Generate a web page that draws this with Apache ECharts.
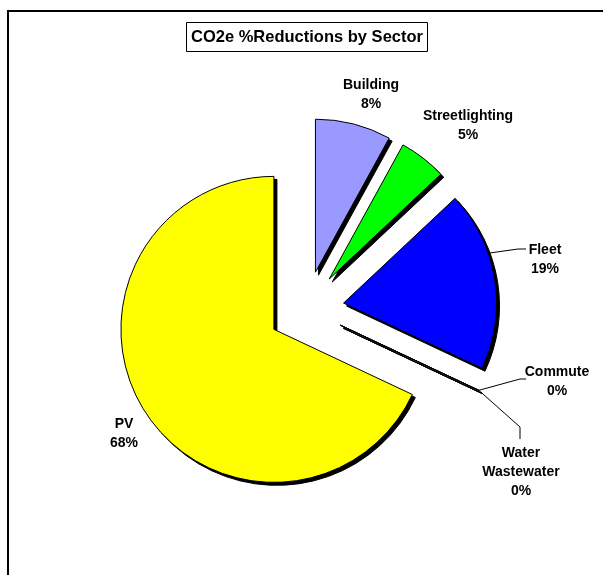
<!DOCTYPE html>
<html>
<head>
<meta charset="utf-8">
<title>CO2e %Reductions by Sector</title>
<script src="https://cdn.jsdelivr.net/npm/echarts@6/dist/echarts.min.js"></script>
<style>
  html, body { margin: 0; padding: 0; background: #fff; }
  #chart { width: 603px; height: 575px; }
</style>
</head>
<body>
<div id="chart"></div>
<script>
// Sector shares of CO2e reductions (percent)
const categories = ['Building', 'Streetlighting', 'Fleet', 'Commute', 'Water Wastewater', 'PV'];
const shares = [8, 5, 19, 0, 0, 68];

// Slice fills, in category order
const sliceColors = ['#9999FF', '#00FF00', '#0000FF', '#FF00FF', '#00FFFF', '#FFFF00'];

// Pie geometry shared by the slice, shadow and label layers
const pieCenter = [306, 309];
const pieRadius = 153;
const explode = 38;
const shadowShift = 3;

// Point on the rim of an exploded slice, at a clock angle (degrees from 12 o'clock)
function rimPoint(index, clockDeg) {
  const total = shares.reduce((a, b) => a + b, 0);
  const before = shares.slice(0, index).reduce((a, b) => a + b, 0);
  const mid = (before + shares[index] / 2) / total * 2 * Math.PI;
  const ox = pieCenter[0] + explode * Math.sin(mid);
  const oy = pieCenter[1] - explode * Math.cos(mid);
  const a = (clockDeg == null ? mid : clockDeg * Math.PI / 180);
  return [ox + pieRadius * Math.sin(a), oy - pieRadius * Math.cos(a)];
}

// Label anchors and leader-line bends, in category order
const labelSpots = [
  { x: 371, y: 95, guide: null },
  { x: 468, y: 126, guide: null },
  { x: 545, y: 260, guide: () => [rimPoint(2, 71), [518, 249], [526, 249]] },
  { x: 557, y: 382, guide: () => [rimPoint(3), [520, 379], [526, 379]] },
  { x: 521, y: 472, guide: () => [rimPoint(4), [520, 427], [520, 439]] },
  { x: 124, y: 434, guide: null }
];

const chart = echarts.init(document.getElementById('chart'), null, { renderer: 'canvas' });

const sliceData = categories.map((name, i) => ({
  name: name,
  value: shares[i],
  selected: true,
  itemStyle: { color: sliceColors[i] }
}));

const shadowData = categories.map((name, i) => ({
  name: name,
  value: shares[i],
  selected: true
}));

const labelData = categories.map((name, i) => ({
  name: name,
  value: shares[i],
  labelLine: { show: !!labelSpots[i].guide }
}));

const labelFont = {
  fontFamily: 'Liberation Sans, Arial, sans-serif',
  fontWeight: 'bold',
  fontSize: 14,
  lineHeight: 19,
  color: '#000'
};

chart.setOption({
  backgroundColor: '#ffffff',
  animation: false,
  title: {
    text: 'CO2e %Reductions by Sector',
    left: 186,
    top: 22,
    padding: [6, 5],
    borderColor: '#000',
    borderWidth: 1,
    textStyle: {
      fontFamily: 'Liberation Sans, Arial, sans-serif',
      fontWeight: 'bold',
      fontSize: 16.5,
      lineHeight: 18,
      color: '#000'
    }
  },
  graphic: [
    {
      type: 'rect',
      silent: true,
      shape: { x: 8, y: 11, width: 700, height: 700 },
      style: { fill: 'none', stroke: '#000', lineWidth: 2 }
    }
  ],
  series: [
    // drop shadow behind the slices
    {
      type: 'pie',
      silent: true,
      z: 1,
      center: [pieCenter[0] + shadowShift, pieCenter[1] + shadowShift],
      radius: pieRadius,
      startAngle: 90,
      clockwise: true,
      selectedMode: 'multiple',
      selectedOffset: explode,
      itemStyle: { color: '#000', borderColor: '#000', borderWidth: 1 },
      emphasis: { disabled: true, scale: false },
      label: { show: false },
      labelLine: { show: false },
      data: shadowData
    },
    // the exploded slices
    {
      type: 'pie',
      z: 2,
      center: pieCenter,
      radius: pieRadius,
      startAngle: 90,
      clockwise: true,
      selectedMode: 'multiple',
      selectedOffset: explode,
      itemStyle: { borderColor: '#000', borderWidth: 1 },
      emphasis: { disabled: true, scale: false },
      label: { show: false },
      labelLine: { show: false },
      data: sliceData
    },
    // category / percent labels with leader lines
    {
      type: 'pie',
      silent: true,
      z: 3,
      center: pieCenter,
      radius: pieRadius,
      startAngle: 90,
      clockwise: true,
      avoidLabelOverlap: false,
      itemStyle: { color: 'rgba(0,0,0,0)', borderWidth: 0 },
      emphasis: { disabled: true, scale: false },
      label: Object.assign({
        show: true,
        position: 'outside',
        align: 'center',
        formatter: p => p.name.replace(' ', '\n') + '\n' + Math.round(p.percent) + '%'
      }, labelFont),
      labelLine: {
        show: true,
        smooth: false,
        lineStyle: { color: '#000', width: 1 }
      },
      labelLayout: params => {
        const spot = labelSpots[params.dataIndex];
        const out = { x: spot.x, y: spot.y, align: 'center', verticalAlign: 'middle' };
        if (spot.guide) out.labelLinePoints = spot.guide();
        return out;
      },
      data: labelData
    }
  ]
});
</script>
</body>
</html>
